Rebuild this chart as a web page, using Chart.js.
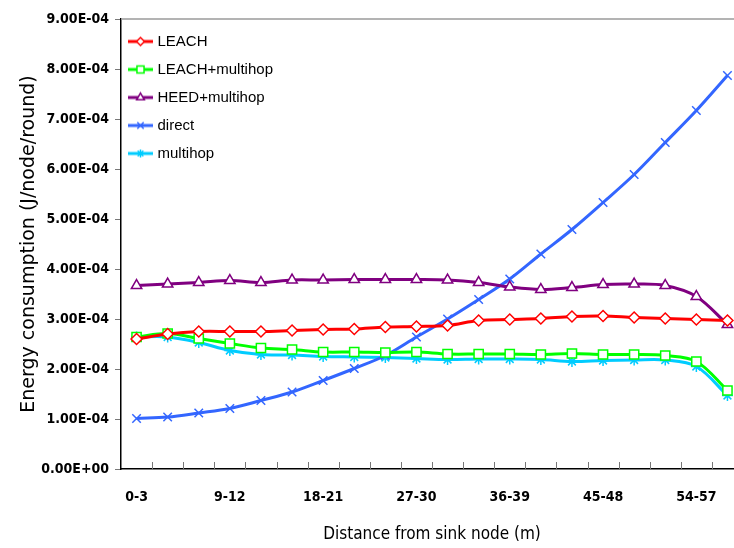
<!DOCTYPE html>
<html>
<head>
<meta charset="utf-8">
<script src="https://cdn.jsdelivr.net/npm/chart.js@4.4.1/dist/chart.umd.min.js"></script>
<style>
html, body { margin: 0; padding: 0; background: #fff; overflow: hidden; }
#wrap { position: relative; width: 760px; height: 548px; }
</style>
</head>
<body>
<div id="wrap"><canvas id="myChart"></canvas></div>
<script>
// distance bands (m)
var distancias = ['0-3', '3-6', '6-9', '9-12', '12-15', '15-18', '18-21', '21-24', '24-27', '27-30',
                  '30-33', '33-36', '36-39', '39-42', '42-45', '45-48', '48-51', '51-54', '54-57', '57-60'];

// energy per node per round (J)
var leach = [2.60e-4, 2.70e-4, 2.75e-4, 2.75e-4, 2.75e-4, 2.77e-4, 2.79e-4, 2.80e-4, 2.84e-4, 2.85e-4,
             2.87e-4, 2.97e-4, 2.99e-4, 3.01e-4, 3.05e-4, 3.06e-4, 3.03e-4, 3.01e-4, 2.99e-4, 2.97e-4];
var leachMultihop = [2.64e-4, 2.71e-4, 2.61e-4, 2.51e-4, 2.42e-4, 2.39e-4, 2.34e-4, 2.34e-4, 2.33e-4, 2.34e-4,
                     2.30e-4, 2.30e-4, 2.30e-4, 2.29e-4, 2.31e-4, 2.29e-4, 2.29e-4, 2.27e-4, 2.15e-4, 1.57e-4];
var heedMultihop = [3.67e-4, 3.70e-4, 3.73e-4, 3.77e-4, 3.73e-4, 3.78e-4, 3.78e-4, 3.79e-4, 3.79e-4, 3.79e-4,
                    3.78e-4, 3.73e-4, 3.64e-4, 3.59e-4, 3.63e-4, 3.69e-4, 3.70e-4, 3.67e-4, 3.45e-4, 2.89e-4];
var direct = [1.01e-4, 1.04e-4, 1.12e-4, 1.21e-4, 1.37e-4, 1.54e-4, 1.77e-4, 2.01e-4, 2.27e-4, 2.64e-4,
              3.00e-4, 3.39e-4, 3.80e-4, 4.30e-4, 4.79e-4, 5.33e-4, 5.89e-4, 6.53e-4, 7.17e-4, 7.87e-4];
var multihop = [2.64e-4, 2.64e-4, 2.53e-4, 2.37e-4, 2.29e-4, 2.28e-4, 2.25e-4, 2.24e-4, 2.23e-4, 2.21e-4,
                2.19e-4, 2.20e-4, 2.20e-4, 2.19e-4, 2.15e-4, 2.17e-4, 2.18e-4, 2.18e-4, 2.05e-4, 1.47e-4];

var series = [
    { label: 'LEACH',          data: leach,         color: '#ff0000', style: 'rectRot',  r: 5.5 },
    { label: 'LEACH+multihop', data: leachMultihop, color: '#00ff00', style: 'rect',     r: 6.5 },
    { label: 'HEED+multihop',  data: heedMultihop,  color: '#800080', style: 'triangle', r: 6 },
    { label: 'direct',         data: direct,        color: '#3366ff', style: 'crossRot', r: 6 },
    { label: 'multihop',       data: multihop,      color: '#00ccff', style: 'star',     r: 5.5 }
];

function sci(v){
    if (Math.abs(v) < 1e-12) return '0.00E+00';
    var e = Math.floor(Math.log10(Math.abs(v)) + 1e-9);
    var m = v / Math.pow(10, e);
    return m.toFixed(2) + 'E' + (e < 0 ? '-' : '+') + String(Math.abs(e)).padStart(2, '0');
}

// small line+marker picture for the legend (drawn off-centre so the line starts near the axis)
function muestra(s){
    var c = document.createElement('canvas');
    c.width = 40; c.height = 14;
    var g = c.getContext('2d');
    g.strokeStyle = s.color;
    g.lineWidth = 3;
    g.beginPath(); g.moveTo(6, 7); g.lineTo(31, 7); g.stroke();
    if (Chart.helpers && Chart.helpers.drawPoint) {
        g.fillStyle = '#fff';
        g.lineWidth = 1.5;
        Chart.helpers.drawPoint(g, { pointStyle: s.style, radius: s.r - 1.5, borderWidth: 1.5, rotation: 0 }, 18.5, 7);
    }
    return c;
}

var extras = {
    id: 'extras',
    beforeDatasetsDraw: function(chart){
        var a = chart.chartArea, ctx = chart.ctx;
        ctx.save();
        ctx.strokeStyle = '#9a9a9a';
        ctx.lineWidth = 1.5;
        ctx.beginPath(); ctx.moveTo(a.left, a.top); ctx.lineTo(a.right, a.top); ctx.stroke();
        var xs = chart.scales.x;
        ctx.strokeStyle = '#777';
        ctx.lineWidth = 1;
        for (var i = 1; i < distancias.length; i++) {
            var x = Math.round((xs.getPixelForValue(i - 1) + xs.getPixelForValue(i)) / 2) + 0.5;
            ctx.beginPath(); ctx.moveTo(x, a.bottom); ctx.lineTo(x, a.bottom - 7); ctx.stroke();
        }
        ctx.restore();
    }
};

window.addEventListener('load', function(){
    var imgs = series.map(muestra);

    var ctx = document.getElementById('myChart').getContext('2d');
    var chart = new Chart(ctx, {
        type: 'line',
        data: {
            labels: distancias,
            datasets: series.map(function(s){
                return {
                    label: s.label,
                    data: s.data,
                    borderColor: s.color,
                    backgroundColor: s.color,
                    borderWidth: 3,
                    tension: 0.35,
                    pointStyle: s.style,
                    pointRadius: s.r,
                    pointBorderWidth: 1.5,
                    pointBorderColor: s.color,
                    pointBackgroundColor: '#fff',
                    fill: false
                };
            })
        },
        options: {
            responsive: true,
            maintainAspectRatio: false,
            animation: false,
            layout: { padding: { top: 19, right: 17, bottom: 0, left: 0 } },
            plugins: {
                tooltip: { enabled: false },
                legend: {
                    position: 'chartArea',
                    align: 'start',
                    title: { display: true, text: ' ', font: { size: 10 }, padding: { top: 9, bottom: 0 } },
                    labels: {
                        usePointStyle: true,
                        pointStyleWidth: 16,
                        padding: 13,
                        color: '#000',
                        font: { family: '"Liberation Sans", Arial, sans-serif', size: 15 },
                        generateLabels: function(c){
                            return c.data.datasets.map(function(ds, i){
                                return { text: ds.label, pointStyle: imgs[i], datasetIndex: i,
                                         hidden: false, lineWidth: 0, fontColor: '#000',
                                         strokeStyle: 'transparent', fillStyle: 'transparent' };
                            });
                        }
                    }
                }
            },
            scales: {
                x: {
                    offset: true,
                    afterFit: function(s){ s.height = 79; },
                    border: { display: true, color: '#000', width: 1.5 },
                    grid: { offset: true, drawOnChartArea: false, drawTicks: false },
                    ticks: {
                        autoSkip: false, maxRotation: 0, padding: 20, color: '#000',
                        font: { family: '"DejaVu Sans Condensed", sans-serif', size: 14, weight: 'bold' },
                        callback: function(val, idx){ return idx % 3 === 0 ? this.getLabelForValue(val) : ''; }
                    },
                    title: {
                        display: true, text: 'Distance from sink node (m)', color: '#000',
                        padding: { top: 0, bottom: 3 },
                        font: { family: '"DejaVu Sans Condensed", "DejaVu Sans", sans-serif', size: 17 }
                    }
                },
                y: {
                    min: 0, max: 9e-4,
                    afterFit: function(s){ s.width = 121; },
                    border: { display: true, color: '#000', width: 1.5 },
                    grid: { drawOnChartArea: false, drawTicks: true, tickLength: 6, color: '#777' },
                    ticks: {
                        stepSize: 1e-4, padding: 6, color: '#000',
                        font: { family: '"DejaVu Sans Condensed", sans-serif', size: 14, weight: 'bold' },
                        callback: function(v){ return sci(v); }
                    },
                    title: {
                        display: true, text: 'Energy consumption (J/node/round)', color: '#000',
                        padding: { top: 18, bottom: 0 },
                        font: { family: '"DejaVu Sans", sans-serif', size: 19 }
                    }
                }
            }
        },
        plugins: [extras]
    });
});
</script>
</body>
</html>
